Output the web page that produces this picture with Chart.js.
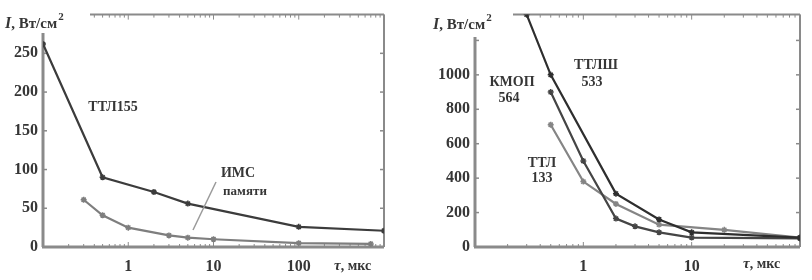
<!DOCTYPE html>
<html><head><meta charset="utf-8">
<script src="https://cdn.jsdelivr.net/npm/chart.js@4/dist/chart.umd.min.js"></script>
<style>
html,body{margin:0;padding:0;background:#fff;}
#wrap{position:relative;width:812px;height:280px;overflow:hidden;}
#c1{position:absolute;left:0;top:0;}
#c2{position:absolute;left:405px;top:0;}
</style></head>
<body><div id="wrap"><canvas id="c1" width="405" height="280"></canvas><canvas id="c2" width="407" height="280"></canvas></div>
<script>
// ---- Left panel data ----
const tauTTL155 = [0.1, 0.5, 2, 5, 100, 1000];
const iTTL155   = [262, 90, 71, 56, 26, 21];
const tauMem    = [0.3, 0.5, 1, 3, 5, 10, 100, 700];
const iMem      = [61, 41, 25, 15, 12, 10, 5, 4];
const leftXTicks = [1, 10, 100];
const leftYTicks = [0, 50, 100, 150, 200, 250];

// ---- Right panel data ----
const tauTTLSh = [0.3, 0.5, 2, 5, 10, 100];
const iTTLSh   = [1350, 1000, 310, 160, 85, 55];
const tauKMOP  = [0.5, 1, 2, 3, 5, 10, 100];
const iKMOP    = [900, 500, 165, 120, 85, 55, 50];
const tauTTL   = [0.5, 1, 2, 5, 20, 100];
const iTTL     = [710, 380, 250, 130, 100, 55];
const rightXTicks = [1, 10];
const rightYTicks = [0, 200, 400, 600, 800, 1000, 1200];
const rightYLabeled = [0, 200, 400, 600, 800, 1000];

const pts = (xs, ys) => xs.map((x, i) => ({x, y: ys[i]}));
const SERIF = "'Liberation Serif','DejaVu Serif',serif";
const TXT = '#363636';
const AX = '#8a8a8a';

function ds(label, xs, ys, color) {
  return {label, data: pts(xs, ys), borderColor: color, backgroundColor: color,
    borderWidth: 2.2, pointStyle: 'star', pointRadius: 3, pointBorderWidth: 1.5,
    pointHoverRadius: 3, tension: 0, fill: false};
}

function boxPlugin(cfg) {
  return {
    id: 'box',
    beforeDatasetsDraw(chart) {
      const {ctx, chartArea: a, scales: {x, y}} = chart;
      ctx.save();
      ctx.strokeStyle = AX;
      ctx.lineWidth = 3;
      ctx.beginPath(); ctx.moveTo(a.left, cfg.leftTop); ctx.lineTo(a.left, a.bottom); ctx.stroke();
      ctx.beginPath(); ctx.moveTo(a.left - 1, a.bottom); ctx.lineTo(a.right, a.bottom); ctx.stroke();
      ctx.lineWidth = 2;
      ctx.beginPath(); ctx.moveTo(cfg.topLeft, a.top); ctx.lineTo(a.right, a.top); ctx.stroke();
      ctx.beginPath(); ctx.moveTo(a.right, a.top); ctx.lineTo(a.right, a.bottom); ctx.stroke();
      ctx.lineWidth = 1.5;
      cfg.yTicks.forEach(v => {
        const py = y.getPixelForValue(v);
        if (py >= cfg.leftTop) { ctx.beginPath(); ctx.moveTo(a.left, py); ctx.lineTo(a.left + 4, py); ctx.stroke(); }
        ctx.beginPath(); ctx.moveTo(a.right, py); ctx.lineTo(a.right - 4, py); ctx.stroke();
      });
      const d0 = Math.floor(Math.log10(x.min)), d1 = Math.ceil(Math.log10(x.max));
      ctx.lineWidth = 1;
      for (let d = d0; d <= d1; d++) {
        for (let k = 1; k <= 9; k++) {
          const v = k * Math.pow(10, d);
          if (v < x.min * 0.999 || v > x.max * 1.001) continue;
          const px = x.getPixelForValue(v);
          const len = k === 1 ? 5 : 3;
          ctx.beginPath(); ctx.moveTo(px, a.bottom); ctx.lineTo(px, a.bottom - len); ctx.stroke();
          if (px >= cfg.topLeft) { ctx.beginPath(); ctx.moveTo(px, a.top); ctx.lineTo(px, a.top + len); ctx.stroke(); }
        }
      }
      ctx.restore();
    },
    afterDraw(chart) {
      const {ctx} = chart;
      ctx.save();
      ctx.fillStyle = TXT;
      ctx.textBaseline = 'alphabetic';
      let xx = cfg.yTitle[0], yy = cfg.yTitle[1];
      ctx.textAlign = 'left';
      ctx.font = 'italic bold 16px ' + SERIF;
      ctx.fillText('I', xx, yy); xx += ctx.measureText('I').width;
      ctx.font = 'bold 15px ' + SERIF;
      ctx.fillText(', Вт/см', xx, yy); xx += ctx.measureText(', Вт/см').width;
      ctx.font = 'bold 11px ' + SERIF;
      ctx.fillText('2', xx + 1, yy - 8);
      xx = cfg.xTitle[0]; yy = cfg.xTitle[1];
      ctx.font = 'italic bold 15px ' + SERIF;
      ctx.fillText('τ', xx, yy); xx += ctx.measureText('τ').width;
      ctx.font = 'bold 14px ' + SERIF;
      ctx.fillText(', мкс', xx, yy);
      ctx.textAlign = 'center'; ctx.textBaseline = 'middle';
      cfg.notes.forEach(n => { ctx.font = 'bold ' + n[3] + 'px ' + SERIF; ctx.fillText(n[0], n[1], n[2]); });
      if (cfg.arrow) {
        ctx.strokeStyle = '#9a9a9a'; ctx.lineWidth = 1.5;
        ctx.beginPath(); ctx.moveTo(cfg.arrow[0], cfg.arrow[1]); ctx.lineTo(cfg.arrow[2], cfg.arrow[3]); ctx.stroke();
      }
      ctx.restore();
    }
  };
}

function makeOptions(xmin, xmax, ymax, xTicks, yTicks, yLabeled, pad, yWidth) {
  return {
    responsive: false, animation: false, events: [],
    layout: {padding: pad},
    plugins: {legend: {display: false}, tooltip: {enabled: false}},
    scales: {
      x: {type: 'logarithmic', min: xmin, max: xmax,
        grid: {display: false, drawTicks: false}, border: {display: false},
        afterBuildTicks: s => { s.ticks = xTicks.map(v => ({value: v})); },
        afterFit: s => { s.height = 280 - 247 - pad.bottom; },
        ticks: {padding: 10, color: TXT, maxRotation: 0, autoSkip: false,
          font: {family: SERIF, size: 16, weight: 'bold'}, callback: v => String(v)}},
      y: {type: 'linear', min: 0, max: ymax,
        grid: {display: false, drawTicks: false}, border: {display: false},
        afterBuildTicks: s => { s.ticks = yTicks.map(v => ({value: v})); },
        afterFit: s => { s.width = yWidth; },
        ticks: {padding: 5, color: TXT, autoSkip: false,
          font: {family: SERIF, size: 16, weight: 'bold'},
          callback: v => yLabeled.includes(v) ? String(v) : ''}}
    }
  };
}

new Chart(document.getElementById('c1'), {
  type: 'line',
  data: {datasets: [
    ds('ТТЛ155', tauTTL155, iTTL155, '#3c3c3c'),
    ds('ИМС памяти', tauMem, iMem, '#7e7e7e')
  ]},
  options: makeOptions(0.1, 1000, 300, leftXTicks, leftYTicks, leftYTicks,
    {left: 0, right: 21, top: 13, bottom: 0}, 43),
  plugins: [boxPlugin({
    leftTop: 33, topLeft: 90, yTicks: leftYTicks,
    yTitle: [5, 28], xTitle: [334, 270],
    notes: [['ТТЛ155', 113, 107, 14], ['ИМС', 238, 173, 14], ['памяти', 245, 192, 13]],
    arrow: [216, 182, 193, 230]
  })]
});

new Chart(document.getElementById('c2'), {
  type: 'line',
  data: {datasets: [
    ds('ТТЛШ 533', tauTTLSh, iTTLSh, '#2e2e2e'),
    ds('КМОП 564', tauKMOP, iKMOP, '#454545'),
    ds('ТТЛ 133', tauTTL, iTTL, '#858585')
  ]},
  options: makeOptions(0.1, 100, 1350, rightXTicks, rightYTicks, rightYLabeled,
    {left: 0, right: 12, top: 13, bottom: 0}, 70),
  plugins: [boxPlugin({
    leftTop: 37, topLeft: 108, yTicks: rightYTicks,
    yTitle: [28, 29], xTitle: [338, 268],
    notes: [['ТТЛШ', 191, 65, 14], ['533', 187, 82, 14], ['КМОП', 107, 82, 14], ['564', 104, 98, 14],
            ['ТТЛ', 137, 163, 14], ['133', 137, 178, 14]],
    arrow: null
  })]
});
</script>
</body></html>
